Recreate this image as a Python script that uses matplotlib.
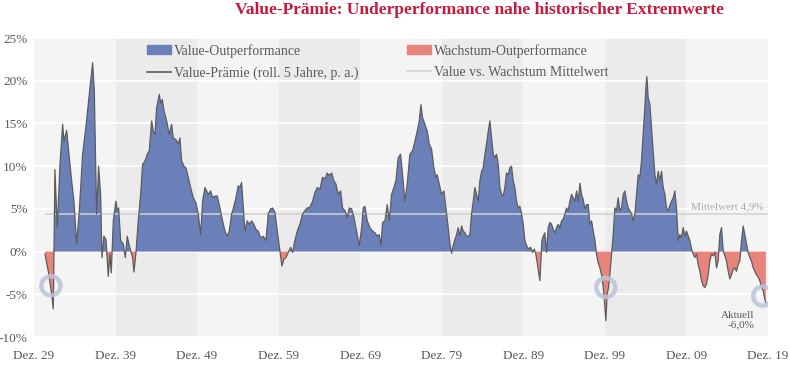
import matplotlib.pyplot as plt
from matplotlib.lines import Line2D
from matplotlib.patches import Patch

plt.rcParams['font.family'] = ['Liberation Serif', 'DejaVu Serif']

# rolling 5y value premium (% p.a.)
years = [
    1931.27, 1931.68, 1932.09, 1932.29, 1932.49, 1932.78, 1933.11, 1933.44, 1933.60, 1933.93,
    1934.21, 1934.54, 1934.82, 1935.15, 1935.48, 1935.89, 1936.30, 1936.70, 1937.11, 1937.32,
    1937.60, 1937.85, 1938.09, 1938.26, 1938.50, 1938.75, 1939.03, 1939.24, 1939.40, 1939.65,
    1939.97, 1940.14, 1940.30, 1940.55, 1940.87, 1941.12, 1941.36, 1941.61, 1942.02, 1942.18,
    1942.43, 1942.71, 1943.00, 1943.24, 1943.53, 1943.82, 1944.06, 1944.35, 1944.55, 1944.76,
    1944.96, 1945.29, 1945.45, 1945.66, 1945.86, 1946.19, 1946.51, 1946.80, 1947.00, 1947.33,
    1947.62, 1947.82, 1948.03, 1948.31, 1948.56, 1948.84, 1949.13, 1949.46, 1949.78, 1950.07,
    1950.36, 1950.60, 1950.89, 1951.09, 1951.30, 1951.58, 1951.83, 1952.11, 1952.40, 1952.73,
    1953.05, 1953.34, 1953.62, 1953.87, 1954.16, 1954.44, 1954.69, 1954.97, 1955.18, 1955.38,
    1955.59, 1955.79, 1956.08, 1956.32, 1956.61, 1956.89, 1957.14, 1957.43, 1957.71, 1958.04,
    1958.37, 1958.65, 1958.94, 1959.18, 1959.47, 1959.76, 1960.08, 1960.33, 1960.57, 1960.82,
    1961.10, 1961.39, 1961.64, 1961.92, 1962.21, 1962.53, 1962.86, 1963.15, 1963.43, 1963.76,
    1964.09, 1964.37, 1964.66, 1964.99, 1965.31, 1965.60, 1965.89, 1966.13, 1966.42, 1966.70,
    1966.95, 1967.23, 1967.52, 1967.77, 1968.05, 1968.34, 1968.58, 1968.87, 1969.16, 1969.48,
    1969.81, 1970.10, 1970.30, 1970.50, 1970.79, 1971.12, 1971.44, 1971.73, 1972.02, 1972.26,
    1972.47, 1972.67, 1972.96, 1973.24, 1973.49, 1973.77, 1974.06, 1974.31, 1974.59, 1974.88,
    1975.12, 1975.41, 1975.69, 1976.02, 1976.35, 1976.63, 1976.92, 1977.17, 1977.37, 1977.57,
    1977.86, 1978.15, 1978.39, 1978.68, 1978.96, 1979.21, 1979.37, 1979.62, 1979.90, 1980.19,
    1980.44, 1980.72, 1980.93, 1981.13, 1981.33, 1981.54, 1981.74, 1981.95, 1982.15, 1982.36,
    1982.56, 1982.77, 1982.97, 1983.17, 1983.38, 1983.58, 1983.79, 1983.99, 1984.20, 1984.40,
    1984.60, 1984.81, 1985.01, 1985.22, 1985.42, 1985.63, 1985.83, 1986.04, 1986.24, 1986.44,
    1986.65, 1986.85, 1987.06, 1987.26, 1987.46, 1987.67, 1987.87, 1988.08, 1988.28, 1988.48,
    1988.69, 1988.89, 1989.10, 1989.30, 1989.51, 1989.71, 1989.92, 1990.12, 1990.33, 1990.53,
    1990.82, 1991.06, 1991.27, 1991.47, 1991.63, 1991.80, 1991.96, 1992.08, 1992.21, 1992.37,
    1992.57, 1992.78, 1992.98, 1993.19, 1993.39, 1993.60, 1993.80, 1994.00, 1994.21, 1994.41,
    1994.62, 1994.82, 1995.03, 1995.23, 1995.43, 1995.64, 1995.84, 1996.05, 1996.25, 1996.46,
    1996.66, 1996.87, 1997.07, 1997.27, 1997.48, 1997.68, 1997.89, 1998.09, 1998.30, 1998.50,
    1998.70, 1998.91, 1999.11, 1999.32, 1999.52, 1999.73, 1999.89, 2000.05, 2000.21, 2000.38,
    2000.54, 2000.75, 2000.95, 2001.16, 2001.36, 2001.56, 2001.77, 2001.97, 2002.18, 2002.38,
    2002.59, 2002.79, 2002.99, 2003.20, 2003.40, 2003.61, 2003.81, 2004.02, 2004.22, 2004.42,
    2004.63, 2004.83, 2004.96, 2005.08, 2005.24, 2005.45, 2005.65, 2005.86, 2006.06, 2006.26,
    2006.47, 2006.67, 2006.88, 2007.08, 2007.29, 2007.49, 2007.69, 2007.90, 2008.10, 2008.31,
    2008.51, 2008.71, 2008.92, 2009.12, 2009.33, 2009.53, 2009.74, 2009.94, 2010.15, 2010.35,
    2010.56, 2010.76, 2010.96, 2011.17, 2011.37, 2011.58, 2011.78, 2011.99, 2012.19, 2012.39,
    2012.60, 2012.80, 2013.01, 2013.21, 2013.42, 2013.62, 2013.82, 2014.03, 2014.23, 2014.44,
    2014.64, 2014.85, 2015.05, 2015.26, 2015.46, 2015.66, 2015.87, 2016.07, 2016.28, 2016.48,
    2016.69, 2016.89, 2017.09, 2017.30, 2017.50, 2017.71, 2017.91, 2018.12, 2018.32, 2018.52,
    2018.73, 2018.93, 2019.14, 2019.34, 2019.55, 2019.67,
]
premium = [
    -0.3, -2.3, -5.0, -6.7, 9.6, 2.8, 10.2, 14.9, 12.9, 14.2,
    11.4, 8.3, 5.9, 0.9, 4.8, 11.4, 14.7, 18.4, 22.1, 18.8,
    4.4, 10.0, 6.7, -0.7, 1.8, 1.4, -2.9, -0.3, -2.5, 3.6,
    5.9, 4.8, 5.1, 1.3, 0.9, -0.7, 1.8, 0.7, -0.7, -2.4,
    -0.1, 3.6, 6.7, 10.2, 10.6, 11.4, 11.8, 15.3, 14.1, 13.7,
    16.8, 18.4, 17.4, 17.8, 16.5, 15.3, 13.7, 14.9, 13.3, 13.1,
    12.6, 13.3, 10.6, 10.0, 9.8, 8.7, 7.5, 6.3, 5.7, 4.4,
    2.0, 5.9, 7.5, 7.1, 6.7, 7.1, 6.3, 6.5, 6.5, 5.1,
    3.6, 2.4, 1.8, 2.4, 4.4, 5.3, 6.3, 7.7, 7.5, 8.1,
    5.1, 2.4, 3.6, 3.2, 3.6, 3.2, 2.6, 2.4, 1.6, 1.8,
    1.3, 4.4, 5.0, 5.1, 4.6, 2.4, 0.1, -1.7, -0.9, -0.7,
    -0.1, 0.5, -0.1, 1.3, 2.4, 3.2, 4.4, 4.8, 5.1, 5.2,
    5.9, 6.9, 7.5, 7.3, 8.7, 8.5, 9.2, 8.9, 9.2, 8.3,
    7.9, 6.7, 7.1, 5.1, 4.8, 4.0, 5.1, 5.0, 4.0, 2.4,
    0.7, 2.8, 5.1, 5.3, 3.6, 2.8, 2.4, 2.2, 1.8, 2.0,
    0.7, 3.4, 3.6, 5.5, 3.6, 6.7, 7.5, 8.3, 11.0, 11.4,
    9.0, 5.9, 7.9, 11.4, 11.8, 12.9, 14.1, 15.3, 17.2, 15.7,
    14.9, 14.1, 12.6, 12.0, 9.8, 8.7, 9.0, 7.9, 6.7, 7.1,
    5.1, 2.8, 0.9, -0.2, 0.7, 1.4, 2.0, 2.8, 1.8, 3.0,
    2.4, 2.2, 1.8, 1.8, 2.0, 4.4, 5.9, 7.5, 6.7, 5.9,
    8.3, 9.4, 9.8, 11.4, 12.6, 14.1, 15.3, 13.3, 11.4, 11.0,
    11.4, 10.2, 7.5, 6.7, 6.5, 7.5, 9.2, 9.0, 9.8, 10.0,
    8.3, 7.5, 5.9, 5.1, 5.3, 4.4, 3.2, 1.3, 0.7, 0.3,
    0.5, -0.1, 0.3, -0.3, -1.3, -2.3, -3.4, -1.3, 1.3, 1.8,
    2.2, -0.1, 2.8, 3.4, 3.2, 2.6, 2.2, 2.8, 3.2, 2.8,
    3.6, 3.8, 4.4, 5.1, 4.8, 5.9, 6.7, 6.3, 5.9, 7.1,
    5.9, 8.0, 6.7, 6.1, 5.0, 5.5, 5.5, 3.2, 3.6, 2.4,
    1.4, -0.3, -1.3, -1.9, -2.7, -4.2, -5.9, -8.1, -5.0, -4.2,
    -2.7, -0.3, 2.0, 5.1, 4.8, 6.3, 4.8, 5.1, 6.7, 7.1,
    5.9, 5.1, 4.8, 4.4, 3.6, 4.4, 6.7, 9.0, 8.7, 10.6,
    13.7, 16.8, 19.2, 20.5, 18.0, 17.2, 14.5, 11.8, 9.0, 7.9,
    9.4, 8.3, 9.4, 7.5, 6.7, 5.1, 4.8, 5.4, 5.9, 6.3,
    7.1, 5.1, 1.3, 2.0, 1.6, 2.8, 1.8, 2.4, 1.8, 1.3,
    0.3, -0.3, -0.7, -0.3, -1.5, -2.3, -3.4, -4.0, -4.2, -3.8,
    -2.7, -1.1, -0.3, -0.5, -0.1, -1.9, -1.1, 2.0, 2.8, 0.1,
    -0.5, -1.1, -2.3, -3.2, -2.7, -2.1, -1.9, -2.3, -1.5, -1.1,
    1.3, 3.0, 2.0, 0.9, -0.1, -0.7, -1.1, -1.9, -2.3, -2.7,
    -3.0, -3.4, -4.2, -4.6, -5.6, -6.0,
]

mean_level = 4.4
mean_label = "Mittelwert 4,9%"

decade_ticks = [1929.92 + 10 * i for i in range(10)]
decade_labels = ["Dez. 29", "Dez. 39", "Dez. 49", "Dez. 59", "Dez. 69",
                 "Dez. 79", "Dez. 89", "Dez. 99", "Dez. 09", "Dez. 19"]
y_ticks = [-10, -5, 0, 5, 10, 15, 20, 25]

# highlighted extremes
circle_years = [1932.0, 2000.05, 2019.3]
circle_values = [-4.0, -4.2, -5.2]

blue = '#6b80b8'
red = '#e8847b'
text_grey = '#5a5a5a'

fig = plt.figure(figsize=(7.9, 3.73), dpi=100)
ax = fig.add_axes([0.043, 0.0965, 0.929, 0.8015])

for i in range(len(decade_ticks) - 1):
    shade = '#f4f4f4' if i % 2 == 0 else '#ebebeb'
    ax.axvspan(decade_ticks[i], decade_ticks[i + 1], color=shade, lw=0, zorder=0)

ax.set_yticks(y_ticks)
ax.grid(axis='y', color='white', lw=1.2)
ax.set_axisbelow(True)

ax.fill_between(years, premium, 0, where=[v >= 0 for v in premium],
                interpolate=True, color=blue, lw=0, zorder=2)
ax.fill_between(years, premium, 0, where=[v <= 0 for v in premium],
                interpolate=True, color=red, lw=0, zorder=2)
ax.hlines(mean_level, years[0], decade_ticks[-1], color='#d2d2d2', lw=1.1, zorder=3)
ax.plot(years, premium, color='#5c5c5c', lw=0.9, zorder=4)

ax.scatter(circle_years, circle_values, s=190, facecolors='none',
           edgecolors='#bcc3d9', linewidths=3.2, alpha=0.85, zorder=5)

ax.text(2019.4, 5.3, mean_label, ha='right', va='center', fontsize=8, color='#ababab')
ax.text(2018.3, -7.0, "Aktuell\n-6,0%", ha='right', va='top', fontsize=8,
        color=text_grey, multialignment='right', linespacing=1.0)

ax.set_xlim(decade_ticks[0], decade_ticks[-1])
ax.set_ylim(-10, 25)
ax.set_xticks(decade_ticks)
ax.set_xticklabels(decade_labels)
ax.set_yticklabels([f"{v}%" for v in y_ticks])
ax.tick_params(length=0, colors=text_grey, labelsize=9.5)
ax.tick_params(axis='y', pad=4.5)
ax.tick_params(axis='x', pad=9)
for s in ax.spines.values():
    s.set_visible(False)

handles = [
    Patch(color=blue, label="Value-Outperformance"),
    Line2D([], [], color='#5c5c5c', lw=1.2, label="Value-Prämie (roll. 5 Jahre, p. a.)"),
    Patch(color=red, label="Wachstum-Outperformance"),
    Line2D([], [], color='#d2d2d2', lw=1.2, label="Value vs. Wachstum Mittelwert"),
]
leg = ax.legend(handles=handles, ncol=2, loc='upper left', bbox_to_anchor=(0.137, 1.022),
                frameon=False, fontsize=10, handlelength=1.7, handleheight=0.6,
                handletextpad=0.25, columnspacing=3.5, labelspacing=0.6)
for t in leg.get_texts():
    t.set_color(text_grey)

fig.text(0.607, 0.972, "Value-Prämie: Underperformance nahe historischer Extremwerte",
         ha='center', va='center', fontsize=12.5, fontweight='bold', color='#c8193c')

fig.savefig('out.png', dpi=100)
